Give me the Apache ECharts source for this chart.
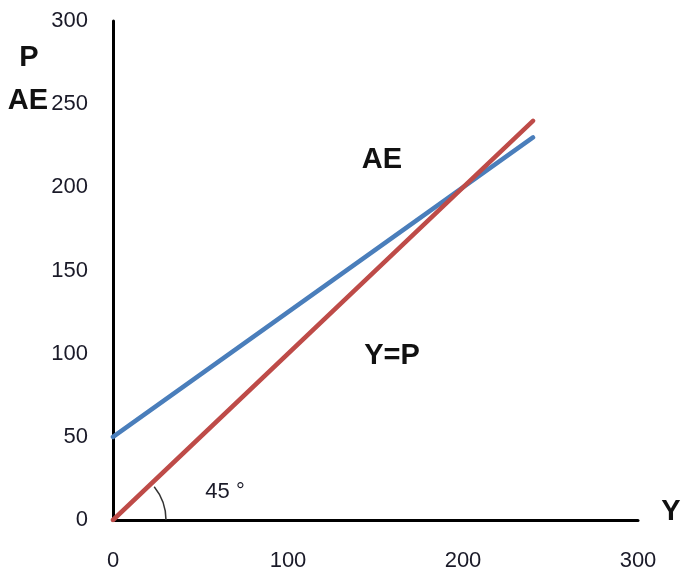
<!DOCTYPE html>
<html><head><meta charset="utf-8">
<script src="https://cdn.jsdelivr.net/npm/echarts@6/dist/echarts.min.js"></script>
<style>html,body{margin:0;padding:0;background:#fff}#c{width:683px;height:572px}</style>
</head><body><div id="c"></div>
<script>
var xTicks = [0, 100, 200, 300];
var yTicks = [0, 50, 100, 150, 200, 250, 300];
var aeX = [0, 240];
var aeY = [50, 230];
var ypX = [0, 240];
var ypY = [0, 240];

var chart = echarts.init(document.getElementById('c'));
var FONT = 'Liberation Sans';
function pairs(xs, ys){ return xs.map(function(x,i){return [x, ys[i]];}); }
chart.setOption({
  animation: false,
  grid: {left: 113, right: 45, top: 21, bottom: 51},
  xAxis: {type: 'value', min: 0, max: 300, interval: 100,
    axisLine: {show: true, onZero: false, lineStyle: {color: '#000', width: 3}},
    axisTick: {show: false}, splitLine: {show: false},
    axisLabel: {margin: 30, fontSize: 22, fontFamily: FONT, color: '#1a1a28'}},
  yAxis: {type: 'value', min: 0, max: 300, interval: 50,
    axisLine: {show: true, onZero: false, lineStyle: {color: '#000', width: 3}},
    axisTick: {show: false}, splitLine: {show: false},
    axisLabel: {margin: 25, fontSize: 22, fontFamily: FONT, color: '#1a1a28'}},
  series: [
    {type: 'line', data: pairs(aeX, aeY), symbol: 'none', z: 3,
      lineStyle: {color: '#4a7ebb', width: 4.5, cap: 'round'}},
    {type: 'line', data: pairs(ypX, ypY), symbol: 'none', z: 4,
      lineStyle: {color: '#be4b48', width: 4.5, cap: 'round'}}
  ]
});
var o = chart.convertToPixel({gridIndex: 0}, [0, 0]);
var bold = {fontSize: 29, fontWeight: 'bold', fontFamily: FONT, fill: '#111', align: 'center', verticalAlign: 'middle'};
function txt(t, x, y, st){ return {type: 'text', x: x, y: y, z: 10, style: Object.assign({text: t}, st)}; }
chart.setOption({graphic: [
  txt('P', 29, 58, bold),
  txt('AE', 28, 101, bold),
  txt('AE', 382, 160, bold),
  txt('Y=P', 392, 356, bold),
  txt('Y', 671, 512, bold),
  txt('45 °', 225, 492, {fontSize: 22, fontFamily: FONT, fill: '#1a1a28', align: 'center', verticalAlign: 'middle'}),
  {type: 'arc', z: 10, shape: {cx: o[0], cy: o[1], r: 53, startAngle: -0.68, endAngle: 0, clockwise: true},
    style: {stroke: '#333', lineWidth: 1.5, fill: null}}
]});
</script></body></html>
